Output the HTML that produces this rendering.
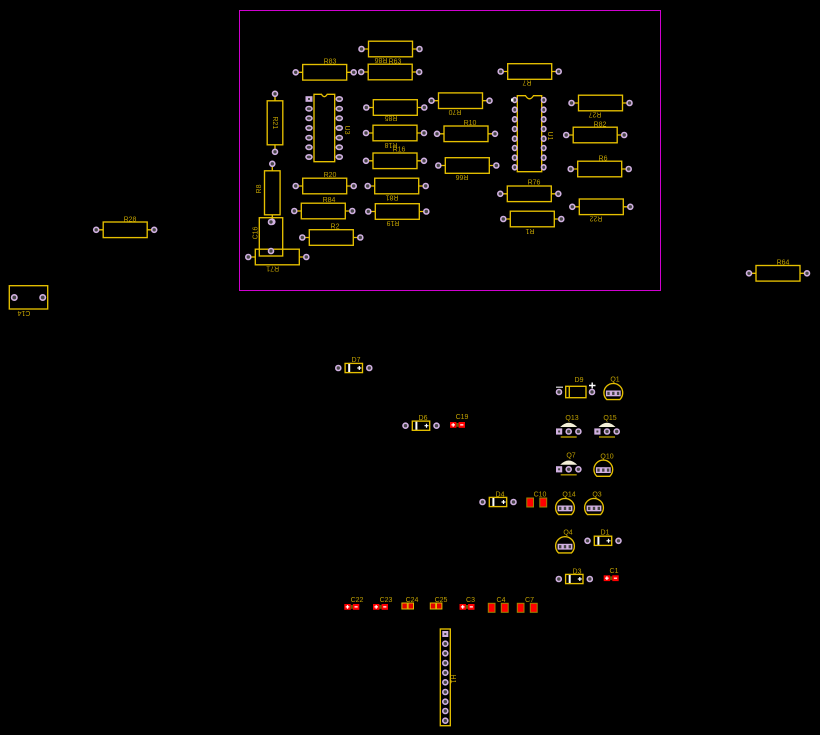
<!DOCTYPE html>
<html><head><meta charset="utf-8"><title>PCB layout</title>
<style>
html,body{margin:0;padding:0;background:#000;width:820px;height:735px;overflow:hidden}
svg{display:block}
text{font-family:"Liberation Sans",sans-serif;font-size:7px;fill:#c0a000;text-anchor:middle}
.s{fill:none;stroke:#e6c000;stroke-width:1.35}
.p{fill:#444;stroke:#d0b0e0;stroke-width:1.6}
.w{fill:none;stroke:#fff;stroke-width:1.2}
</style></head><body>
<svg width="820" height="735" viewBox="0 0 820 735" xmlns="http://www.w3.org/2000/svg">
<defs>
<g id="r"><rect class="s" x="-22" y="-7.8" width="44" height="15.6"/><path class="s" d="M-26 0H-22M22 0H26"/><circle class="p" cx="-29" cy="0" r="2.5"/><circle class="p" cx="29" cy="0" r="2.5"/></g>
<g id="d"><rect class="s" x="-8.7" y="-4.6" width="17.4" height="9.2"/><rect x="-5.6" y="-4" width="2" height="8" fill="#fff"/><path class="w" d="M3.5 0H7.5M5.5 -2V2"/><circle class="p" cx="-15.5" cy="0" r="2.5"/><circle class="p" cx="15.5" cy="0" r="2.5"/></g>
<g id="cs"><rect x="0" y="0" width="6.4" height="5.8" fill="#f00"/><rect x="6.4" y="1" width="2.2" height="3.8" fill="#6b5a00"/><rect x="8.6" y="0" width="6.4" height="5.8" fill="#f00"/><path class="w" d="M1.4 2.9H5M3.2 1.1V4.7M10.2 2.9H13.4"/></g>
<g id="cb"><rect x="0" y="0" width="6.7" height="9" fill="#f00" stroke="#a08800"/><rect x="13" y="0" width="6.9" height="9" fill="#f00" stroke="#a08800"/></g>
<g id="cy"><rect x="0" y="0" width="5.4" height="6" fill="#e00000" stroke="#e0bc00"/><rect x="6.2" y="0" width="5.4" height="6" fill="#e00000" stroke="#e0bc00"/></g>
<g id="q"><path class="s" d="M-6.5 15.6A9.4 9.4 0 1 1 6.5 15.6Z"/><rect x="-7.4" y="6.5" width="14.8" height="5.8" fill="#d0b0e0"/><rect x="-6" y="7.8" width="2.4" height="3.2" fill="#444"/><rect x="-1.2" y="7.8" width="2.4" height="3.2" fill="#444"/><rect x="3.6" y="7.8" width="2.4" height="3.2" fill="#444"/></g>
<g id="t"><path d="M-8.5 -4.5Q0 -13 8.5 -4.5Z" fill="#f4f0d8"/><path d="M-8 5.5H8" stroke="#b09600" stroke-width="1.4"/><rect x="-12.7" y="-3.1" width="6.2" height="6.2" fill="#d0b0e0"/><rect x="-10.6" y="-1" width="2" height="2" fill="#444"/><circle class="p" cx="0" cy="0" r="2.5"/><circle class="p" cx="9.7" cy="0" r="2.5"/></g>
<g id="o3"><ellipse class="p" cx="0" cy="0" rx="3" ry="2.2"/></g>
<g id="o1"><ellipse class="p" cx="0" cy="0" rx="2.2" ry="2.5"/></g>
<circle id="h" class="p" cx="0" cy="0" r="2.5"/>
</defs>
<rect width="820" height="735" fill="#000"/>
<rect x="239.5" y="10.5" width="421" height="280" fill="none" stroke="#d000d0" stroke-width="1"/>

<use href="#r" x="390.5" y="49"/><use href="#r" x="324.7" y="72.3"/><use href="#r" x="390.2" y="72"/>
<use href="#r" x="395.3" y="107.5"/><use href="#r" x="395" y="133"/><use href="#r" x="395" y="160.8"/>
<use href="#r" x="460.5" y="100.7"/><use href="#r" x="466" y="133.8"/><use href="#r" x="467.3" y="165.5"/>
<use href="#r" x="529.7" y="71.5"/><use href="#r" x="600.5" y="103"/><use href="#r" x="595.2" y="135"/>
<use href="#r" x="599.7" y="169"/><use href="#r" x="529.3" y="193.8"/><use href="#r" x="601.3" y="206.8"/>
<use href="#r" x="532.3" y="219"/><use href="#r" x="324.7" y="186"/><use href="#r" x="323.3" y="211"/>
<use href="#r" x="396.7" y="186"/><use href="#r" x="397.3" y="211.5"/><use href="#r" x="331.3" y="237.5"/>
<use href="#r" x="277.3" y="257"/><use href="#r" x="125.2" y="229.8"/><use href="#r" x="778" y="273.3"/>
<g transform="translate(275,122.8) rotate(90)"><use href="#r"/></g>
<g transform="translate(272.3,192.8) rotate(90)"><use href="#r"/></g>

<rect class="s" x="259.3" y="217.7" width="23.4" height="38.3"/><circle class="p" cx="271" cy="222" r="2.5"/><circle class="p" cx="271" cy="251" r="2.5"/>
<rect class="s" x="9.3" y="285.7" width="38.4" height="23.3"/><circle class="p" cx="14.3" cy="297.5" r="2.7"/><circle class="p" cx="42.7" cy="297.5" r="2.7"/>

<path class="s" d="M314 94.3H321.5Q324.3 99 327.2 94.3H334.7V161.7H314Z"/>
<rect x="305.5" y="96.2" width="7" height="5.6" fill="#d0b0e0"/><rect x="308" y="98" width="2" height="2" fill="#444"/>
<use href="#o3" x="309" y="108.7"/><use href="#o3" x="309" y="118.3"/><use href="#o3" x="309" y="128"/><use href="#o3" x="309" y="137.7"/><use href="#o3" x="309" y="147.3"/><use href="#o3" x="309" y="157"/>
<use href="#o3" x="339.3" y="99"/><use href="#o3" x="339.3" y="108.7"/><use href="#o3" x="339.3" y="118.3"/><use href="#o3" x="339.3" y="128"/><use href="#o3" x="339.3" y="137.7"/><use href="#o3" x="339.3" y="147.3"/><use href="#o3" x="339.3" y="157"/>

<path class="s" d="M517.3 95.7H525.5Q529.5 102 533.5 95.7H541.7V171.7H517.3Z"/>
<use href="#o1" x="514.7" y="100"/><use href="#o1" x="514.7" y="109.7"/><use href="#o1" x="514.7" y="119.3"/><use href="#o1" x="514.7" y="129"/><use href="#o1" x="514.7" y="138.7"/><use href="#o1" x="514.7" y="148"/><use href="#o1" x="514.7" y="157.7"/><use href="#o1" x="514.7" y="167.3"/>
<use href="#o1" x="543.7" y="100"/><use href="#o1" x="543.7" y="109.7"/><use href="#o1" x="543.7" y="119.3"/><use href="#o1" x="543.7" y="129"/><use href="#o1" x="543.7" y="138.7"/><use href="#o1" x="543.7" y="148"/><use href="#o1" x="543.7" y="157.7"/><use href="#o1" x="543.7" y="167.3"/>
<rect x="511" y="98.5" width="2.4" height="3" fill="#fff"/>

<use href="#d" x="353.8" y="368"/><use href="#d" x="421" y="425.7"/><use href="#d" x="498" y="502"/><use href="#d" x="603" y="540.8"/><use href="#d" x="574.3" y="579"/>

<rect class="s" x="565.7" y="386.3" width="20.3" height="11.4"/><path class="s" d="M569.3 386.3V397.7"/>
<circle class="p" cx="559" cy="392" r="2.5"/><circle class="p" cx="592" cy="392" r="2.5"/>
<path d="M556 387.2H563" stroke="#ddd" stroke-width="1.2"/><path d="M589 385.5H595.5M592.2 382.5V388.5" stroke="#fff" stroke-width="1.4"/>

<use href="#q" x="613.3" y="384"/><use href="#q" x="603.3" y="460.7"/><use href="#q" x="565" y="499"/><use href="#q" x="594" y="499"/><use href="#q" x="565" y="537.3"/>
<use href="#t" x="568.7" y="431.5"/><use href="#t" x="607" y="431.5"/><use href="#t" x="568.7" y="469.3"/>

<use href="#cs" x="450" y="422"/><use href="#cs" x="603.7" y="575.3"/><use href="#cs" x="344.3" y="604"/><use href="#cs" x="373" y="604"/><use href="#cs" x="459.5" y="604"/>
<use href="#cb" x="526.8" y="498"/><use href="#cb" x="488.3" y="603.3"/><use href="#cb" x="517.3" y="603.3"/>
<use href="#cy" x="401.9" y="603"/><use href="#cy" x="430.3" y="603"/>

<rect class="s" x="440.3" y="629" width="10" height="96.7"/>
<rect x="442.3" y="631" width="6" height="6" fill="#d0b0e0"/><rect x="444.3" y="633" width="2" height="2" fill="#444"/>
<use href="#h" x="445.3" y="643.7"/><use href="#h" x="445.3" y="653.3"/><use href="#h" x="445.3" y="663"/><use href="#h" x="445.3" y="672.7"/><use href="#h" x="445.3" y="682.3"/><use href="#h" x="445.3" y="692"/><use href="#h" x="445.3" y="701.7"/><use href="#h" x="445.3" y="711"/><use href="#h" x="445.3" y="720.7"/>

<text x="395" y="63.5">R63</text><text x="330" y="63.5">R83</text><text x="399" y="151.5">R16</text>
<text x="470" y="125">R10</text><text x="600" y="126.5">R82</text><text x="603" y="160.5">R6</text>
<text x="534" y="184.5">R76</text><text x="330" y="177">R20</text><text x="329" y="202">R84</text>
<text x="335" y="228.5">R2</text><text x="130" y="221.5">R28</text><text x="783" y="264.5">R64</text>
<text transform="translate(381,58) rotate(180)">R86</text>
<text transform="translate(391,116) rotate(180)">R85</text>
<text transform="translate(391,143) rotate(180)">R18</text>
<text transform="translate(455,110) rotate(180)">R70</text>
<text transform="translate(462,175) rotate(180)">R66</text>
<text transform="translate(527,80.5) rotate(180)">R7</text>
<text transform="translate(595,112.5) rotate(180)">R27</text>
<text transform="translate(596,216.5) rotate(180)">R22</text>
<text transform="translate(530,229) rotate(180)">R1</text>
<text transform="translate(392,195.5) rotate(180)">R81</text>
<text transform="translate(393,221) rotate(180)">R19</text>
<text transform="translate(272.7,266.5) rotate(180)">R71</text>
<text transform="translate(24,311) rotate(180)">C14</text>
<text transform="translate(273,122.8) rotate(90)">R21</text>
<text transform="translate(345,130) rotate(90)">U3</text>
<text transform="translate(548,136) rotate(90)">U1</text>
<text transform="translate(451,679) rotate(90)">H1</text>
<text transform="translate(261,189) rotate(-90)">R8</text>
<text transform="translate(257.5,233) rotate(-90)">C16</text>
<text x="356" y="362">D7</text><text x="423" y="420">D6</text><text x="462" y="419">C19</text>
<text x="579" y="382">D9</text><text x="615" y="381.5">Q1</text><text x="572" y="420">Q13</text><text x="610" y="420">Q15</text>
<text x="571" y="457.5">Q7</text><text x="607" y="458.5">Q10</text><text x="569" y="496.5">Q14</text><text x="597" y="496.5">Q3</text>
<text x="500" y="496.5">D4</text><text x="540" y="496.5">C10</text><text x="568" y="534.5">Q4</text><text x="605" y="534.5">D1</text>
<text x="577" y="573.5">D3</text><text x="614" y="573">C1</text>
<text x="357" y="602">C22</text><text x="386" y="602">C23</text><text x="412" y="602">C24</text><text x="441" y="602">C25</text><text x="470.5" y="602">C3</text><text x="501" y="602">C4</text><text x="529.5" y="602">C7</text>
</svg>
</body></html>
